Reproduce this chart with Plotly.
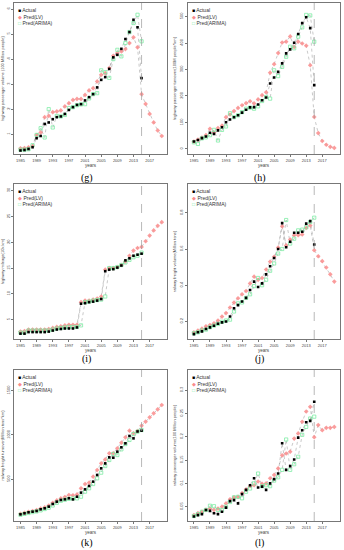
import plotly.graph_objects as go

years_act = list(range(1985, 2016))
years_pred = list(range(1985, 2021))

# (g) highway passenger volume
g_actual = [0.35,0.37,0.41,0.48,0.84,0.93,1.41,1.47,1.60,1.68,1.71,1.81,1.97,2.08,2.17,2.20,2.35,2.48,2.60,2.87,3.17,3.28,3.61,4.07,4.17,4.41,4.80,5.08,5.57,5.27,3.24]
g_lv = [0.44,0.45,0.48,0.53,0.97,1.07,1.68,1.73,1.88,1.91,1.95,2.11,2.24,2.37,2.41,2.41,2.57,2.75,2.84,3.11,3.37,3.44,3.64,4.13,4.24,4.31,4.40,4.64,4.87,4.47,2.60,2.21,1.81,1.47,1.15,0.93]
g_arima = [0.38,0.38,0.40,0.56,0.97,1.24,0.87,2.00,1.27,1.73,1.71,1.77,2.04,2.08,2.16,2.19,2.20,2.43,2.60,2.64,3.55,3.48,3.25,4.00,4.37,4.11,4.64,5.08,5.44,5.77,4.71]

# (h) highway passenger turnover
h_actual = [28,34,41,47,61,57,70,82,101,111,120,127,137,148,157,158,168,184,194,247,270,291,323,361,376,401,434,475,497,456,241]
h_lv = [28,35,43,52,76,62,79,88,120,130,143,155,165,173,180,172,187,203,214,288,320,362,402,405,425,385,405,398,390,316,121,60,30,16,8,4]
h_arima = [25,19,40,44,52,72,32,72,85,135,120,127,139,152,156,152,161,181,196,190,297,275,310,348,386,380,424,459,506,504,405]

# (i) highway mileage
i_actual = [2.3,2.3,2.6,2.6,2.6,2.6,2.6,2.7,2.9,3.1,3.2,3.3,3.3,3.3,3.5,8.1,8.2,8.4,8.5,8.7,9.0,14.4,14.7,14.8,15.1,15.5,16.5,16.9,17.4,17.6,17.8]
i_lv = [2.7,2.8,3.1,3.1,3.1,3.1,3.1,3.2,3.4,3.6,3.7,3.9,4.0,4.0,4.0,8.4,8.7,8.7,8.9,9.1,9.5,14.7,15.0,15.0,15.2,15.6,16.3,17.4,18.4,18.9,19.1,20.2,21.3,22.3,23.2,23.9]
i_arima = [2.5,2.5,2.9,2.9,2.9,2.9,2.9,2.9,3.1,3.3,3.4,3.5,3.6,3.6,3.6,3.9,8.4,8.5,8.7,8.8,8.9,9.5,15.0,15.0,15.2,15.6,16.1,16.6,17.1,17.4,18.0]

# (j) railway freight volume
j_actual = [0.130,0.140,0.145,0.158,0.167,0.176,0.187,0.195,0.200,0.227,0.273,0.290,0.310,0.330,0.374,0.420,0.390,0.410,0.460,0.505,0.550,0.600,0.743,0.610,0.640,0.690,0.690,0.695,0.740,0.754,0.625]
j_lv = [0.140,0.150,0.160,0.173,0.180,0.190,0.205,0.227,0.246,0.277,0.304,0.328,0.350,0.368,0.410,0.447,0.430,0.440,0.487,0.530,0.557,0.608,0.725,0.620,0.652,0.676,0.676,0.680,0.716,0.730,0.593,0.560,0.533,0.498,0.460,0.420]
j_arima = [0.135,0.140,0.150,0.155,0.168,0.177,0.186,0.198,0.205,0.210,0.255,0.300,0.305,0.330,0.350,0.395,0.440,0.400,0.430,0.480,0.520,0.575,0.600,0.760,0.630,0.657,0.703,0.707,0.720,0.749,0.773]

# (k) railway freight turnover
k_actual = [105,117,128,135,143,162,173,192,222,248,267,274,286,274,304,350,387,425,474,549,624,680,748,744,812,861,906,989,962,1040,1049]
k_lv = [112,122,133,142,152,170,183,205,235,262,285,300,323,320,330,398,447,462,530,605,680,725,793,793,850,913,974,1049,1019,1045,1105,1150,1199,1244,1289,1338]
k_arima = [100,110,120,130,138,150,165,180,205,235,258,270,280,285,285,304,361,399,447,511,575,650,718,786,774,838,898,944,1011,1038,1056]

# (l) railway passenger volume
l_actual = [0.029,0.032,0.034,0.043,0.041,0.036,0.034,0.039,0.048,0.062,0.064,0.057,0.077,0.086,0.096,0.111,0.091,0.093,0.086,0.100,0.109,0.121,0.186,0.129,0.137,0.151,0.198,0.214,0.231,0.234,0.275]
l_lv = [0.032,0.036,0.039,0.043,0.046,0.043,0.046,0.050,0.057,0.066,0.070,0.071,0.079,0.087,0.094,0.096,0.104,0.099,0.100,0.111,0.118,0.132,0.160,0.164,0.168,0.196,0.207,0.232,0.254,0.264,0.199,0.225,0.214,0.219,0.219,0.221]
l_arima = [0.030,0.034,0.039,0.043,0.052,0.051,0.043,0.043,0.050,0.060,0.070,0.071,0.068,0.082,0.089,0.100,0.121,0.094,0.096,0.094,0.106,0.113,0.129,0.194,0.129,0.141,0.157,0.204,0.221,0.239,0.243]

panels = [
    ("(g)", "highway passenger volume (100 Million people)", g_actual, g_lv, g_arima, [0.21, 6.24], [1,2,3,4,5,6]),
    ("(h)", "highway passenger turnover(100M people*km)", h_actual, h_lv, h_arima, [-19, 551], [0,100,200,300,400,500]),
    ("(i)", "highway mileage(10k km)", i_actual, i_lv, i_arima, [1.26, 31.3], [5,10,15,20,25,30]),
    ("(j)", "railway freight volume(Million tons)", j_actual, j_lv, j_arima, [0.103, 0.959], [0.2,0.4,0.6,0.8]),
    ("(k)", "railway freight turnover(Million tons*km)", k_actual, k_lv, k_arima, [30, 1733], [500,1000,1500]),
    ("(l)", "railway passenger volume(100 Million people)", l_actual, l_lv, l_arima, [0.0193, 0.343], [0.05,0.10,0.15,0.20,0.25,0.30]),
]

W, H = 344, 550
col_px = [(14, 167), (187.5, 339.5)]
row_px = [(3, 154), (184, 339), (370, 521)]
label_y = [178, 359, 543]

xticks = [1985, 1989, 1993, 1997, 2001, 2005, 2009, 2013, 2017]
vline_year = 2015

c_act = "black"
c_lv = "rgba(250,140,140,0.85)"
c_ar = "rgba(120,235,160,0.85)"
line_c = "rgba(120,120,120,0.8)"

fig = go.Figure()
layout = dict(width=W, height=H, margin=dict(l=0, r=0, t=0, b=0),
              paper_bgcolor="white", plot_bgcolor="white", showlegend=False)
annotations = []
shapes = []

for idx, (lab, ytitle, act, lv, ar, yr, yt) in enumerate(panels):
    r, c = divmod(idx, 2)
    n = idx + 1
    xa = "x" if n == 1 else f"x{n}"
    ya = "y" if n == 1 else f"y{n}"
    x0, x1 = col_px[c]
    y0, y1 = row_px[r]
    xd = [x0 / W, x1 / W]
    yd = [1 - y1 / H, 1 - y0 / H]
    axis_common = dict(showline=True, linecolor="#777", linewidth=0.8, mirror=True,
                       ticks="outside", ticklen=2, tickwidth=0.6, tickcolor="#777",
                       showgrid=False, zeroline=False,
                       tickfont=dict(size=4, family="Liberation Sans", color="#444"))
    layout["xaxis" if n == 1 else f"xaxis{n}"] = dict(
        domain=xd, anchor=ya, range=[1983.4, 2021.3], tickvals=xticks,
        title=dict(text="years", font=dict(size=4.5, family="Liberation Sans", color="#444"), standoff=1),
        **axis_common)
    layout["yaxis" if n == 1 else f"yaxis{n}"] = dict(
        domain=yd, anchor=xa, range=yr, tickvals=yt, tickangle=-90,
        title=dict(text=ytitle, font=dict(size=4, family="Liberation Sans", color="#444"), standoff=2),
        **axis_common)

    # connecting dashed lines
    for xs, ys in [(years_pred, lv), (years_act, ar), (years_act, act)]:
        fig.add_trace(go.Scatter(x=xs, y=ys, mode="lines", xaxis=xa, yaxis=ya,
                                 line=dict(color=line_c, width=0.5, dash="dot"),
                                 hoverinfo="skip"))
    fig.add_trace(go.Scatter(x=years_pred, y=lv, mode="markers", xaxis=xa, yaxis=ya,
                             marker=dict(symbol="diamond", size=3.6, color=c_lv)))
    fig.add_trace(go.Scatter(x=years_act, y=ar, mode="markers", xaxis=xa, yaxis=ya,
                             marker=dict(symbol="square-open", size=3.2, color=c_ar, line=dict(width=0.9))))
    fig.add_trace(go.Scatter(x=years_act, y=act, mode="markers", xaxis=xa, yaxis=ya,
                             marker=dict(symbol="square", size=2.6, color=c_act)))

    shapes.append(dict(type="line", xref=xa, yref=f"{ya} domain", x0=vline_year, x1=vline_year,
                       y0=0, y1=1, line=dict(color="#999", width=0.7, dash="dash")))

    leg = ("<span style='color:black'>■</span> Actual<br>"
           "<span style='color:rgb(250,140,140)'>◆</span> Pred(LV)<br>"
           "<span style='color:rgb(120,235,160)'>□</span> Pred(ARIMA)")
    annotations.append(dict(text=leg, xref="paper", yref="paper",
                            x=(x0 + 2) / W, y=1 - (y0 + 2) / H, xanchor="left", yanchor="top",
                            align="left", showarrow=False,
                            font=dict(size=5, family="Liberation Sans", color="#333")))
    annotations.append(dict(text=lab, xref="paper", yref="paper",
                            x=((x0 + x1) / 2 - 4) / W, y=1 - label_y[r] / H,
                            xanchor="center", yanchor="middle", showarrow=False,
                            font=dict(size=10, family="Liberation Serif", color="black")))

layout["annotations"] = annotations
layout["shapes"] = shapes
fig.update_layout(**layout)
fig.write_html("out.html", config={"displayModeBar": False},
               post_script="document.body.style.margin='0';document.body.style.overflow='hidden';")
